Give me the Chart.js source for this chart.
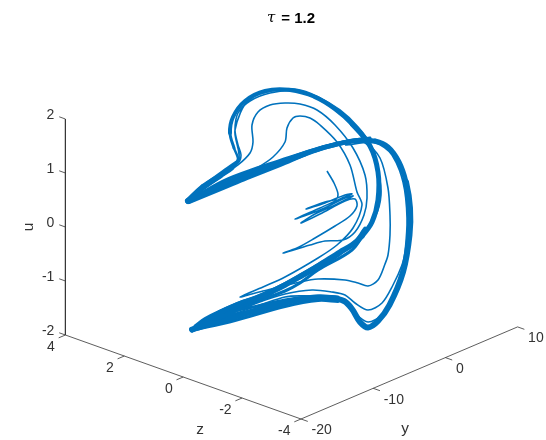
<!DOCTYPE html>
<html>
<head>
<meta charset="utf-8">
<title>tau = 1.2</title>
<script src="https://cdn.jsdelivr.net/npm/chart.js@4/dist/chart.umd.min.js"></script>
<style>
  html, body { margin: 0; padding: 0; background: #fff; }
  canvas { display: block; }
</style>
</head>
<body>
<canvas id="chart" width="546" height="440"></canvas>
<script>
// tick values of the three axes
const uTicks = [2, 1, 0, -1, -2];
const zTicks = [4, 2, 0, -2, -4];
const yTicks = [-20, -10, 0, 10];

// trajectory, in view plane units (the plot only shows the projection)
// transient: starts near the centre, spirals out
const transH = [5.4,6.1,6.5,6.3,5.2,3.3,5.2,7.2,7.9,6.7,4.7,2.2,4.7,7.2,8.0,6.2,4.2,2.8,4.7,7.2,8.2,8.4,7.7,6.2,4.2,2.4,1.0,2.4,3.7,5.2,7.0,8.2,9.1,9.4,9.2,8.0,6.2,4.4,2.7,1.2,-0.3,-1.5,-2.1,-2.0,-2.3,-3.5,-5.1,-6.8,-8.3,-5.8,-3.3,-1.6,0,1.2,1.4,2.0,2.7,3.7,4.7,6.4,7.7,8.4,
  8.9,8.0,6.4,4.5,1.2,-1.0,-3.3,-1.0,2.7,4.5,7.2,8.5,9.5,10.5,11.2,11.5,11.7,11.7,11.5,10.7,9.2,7.2,4.7,1.7,-3.3,-6.3,-8.3,-6.8,-3.5,-3.2,-3.5,-3.8,-3.5,-2.3,-0.3,2.2,4.5,6.5,8.2,9.9,10.6,10.8,10.3,8.9,6.7,3.4,-0.3,-3.3,-5.8,
  -1.6,1.2,3.9,5.9,7.2,8.2,9.5,10.9,12.0,12.9,13.2,13.4,13.0,11.7,10.2,8.4,5.0,1.7,
  -3.3,-8.5,-3.5,-3.8,-2.3,2.2,6.7,9.9,10.6,8.9,4.5,-1.6,-5.8,1.2,3.7,6.2,7.4,8.3,9.5,10.9,12.1,13.1,13.5,13.2,11.9,10.2,7.2];
const transV = [5.6,4.4,3.3,2.8,2.5,1.8,2.4,3.2,3.3,2.8,1.9,0.8,1.7,2.9,3.1,2.2,1.3,0.4,1.3,2.6,2.8,2.1,1.1,0.1,-1.1,-2.1,-2.6,-2.2,-1.8,-1.4,-1.3,-0.5,1.2,2.9,5.2,7.9,10.2,11.7,12.3,12.4,12.2,11.5,10.2,8.5,7.4,6.2,5.1,3.9,2.7,3.9,5.0,5.9,7.0,8.5,9.9,10.9,11.1,10.9,10.2,8.5,6.2,3.5,
  2.2,-0.1,-1.8,-3.1,-5.0,-6.0,-7.0,-6.4,-5.5,-5.2,-5.3,-5.6,-5.9,-5.3,-3.7,-2.8,-0.8,1.2,3.9,6.9,8.4,8.4,7.9,6.9,5.1,3.7,2.7,4.1,6.4,7.2,8.2,9.7,11.4,12.6,13.4,13.6,12.8,11.5,9.9,7.7,5.2,3.2,1.2,-0.8,-2.8,-4.8,-6.6,-8.1,-9.3,
  -7.6,-6.7,-6.3,-6.5,-6.8,-7.6,-8.3,-7.6,-5.8,-3.8,-2.5,0.9,4.5,7.9,8.6,8.8,8.1,7.0,
  5.0,2.6,6.6,9.7,12.8,13.8,11.7,8.0,3.2,-0.9,-3.9,-7.0,-9.3,-7.0,-6.9,-7.0,-7.5,-8.7,-9.5,-8.8,-7.0,-3.8,-0.8,3.7,7.2,8.4,8.2];

// settled cycle, outer branch from the upper tip round to the lower tip
const outerH = [-8.5,-6.8,-5.0,-3.3,-1.6,-0.5,0.7,1.5,2.4,3.2,4.0,4.9,5.7,7.4,8.7,10.2,11.5,12.6,13.3,13.7,13.65,13.0,11.65,10.5,9.5,8.7,7.9,7.1,5.7,3.7,1.2,-1.5,-3.8,-5.8,-8.1];
const outerV = [2.6,3.4,4.2,4.9,5.6,6.0,6.4,6.7,7.0,7.3,7.6,7.9,8.1,8.5,8.7,8.6,8.0,6.5,4.5,1.9,-0.8,-4.5,-7.8,-9.4,-10.05,-9.5,-8.2,-7.4,-7.1,-7.1,-7.55,-8.3,-8.95,-9.55,-10.25];
// settled cycle, return branch from the lower tip over the top
const backH = [-8.1,-6.8,-5.3,-3.8,-1.6,-0.2,1.2,2.8,4.5,6.7,7.9,8.9,9.9,10.5,10.5,9.7,7.9,6.2,4.2,1.7,-0.8,-2.8,-4.0,-4.3,-3.9,-3.5,-4.1,-5.3,-7.0,-8.5];
const backV = [-10.3,-9.5,-8.6,-7.9,-7.1,-6.5,-5.8,-4.9,-3.9,-2.5,-1.8,-0.9,0.5,2.7,5.5,8.1,10.3,11.8,13.0,13.7,13.6,12.6,11.0,9.4,7.9,6.7,5.9,5.1,4.0,2.6];

// edge passes of the dense wedges near the two tips
const edgeA1H = [-8.5,-5.0,-1.6,0.7,4.0,7.4,9.7];
const edgeA1V = [2.6,4.6,5.9,6.65,7.7,8.6,8.9];
const edgeA2H = [-8.4,-5.0,-2.6,0.7,4.0,7.4,9.7];
const edgeA2V = [2.45,3.85,4.85,6.15,7.5,8.45,8.8];
const edgeTopH = [-8.5,-7.3,-5.0,-3.5];
const edgeTopV = [2.6,3.85,5.55,6.6];
const edgeLow1H = [-8.1,-3.8,1.2,4.5,6.5];
const edgeLow1V = [-10.35,-9.35,-7.95,-7.35,-7.45];
const edgeLow2H = [-7.8,-3.8,-1.5,1.2,4.5,6.5];
const edgeLow2V = [-10.0,-8.4,-7.9,-7.3,-6.9,-7.0];
const edgeB1H = [-7.8,-6.8,-3.3,-1.8,1.2,4.5,7.9,9.2];
const edgeB1V = [-9.9,-9.15,-7.55,-7.05,-5.65,-3.75,-1.75,-0.1];
const edgeB2H = [-7.8,-3.8,-1.6,1.2,2.7,4.5,7.9,9.2];
const edgeB2V = [-10.1,-8.35,-7.45,-6.4,-5.6,-4.3,-2.3,-0.5];

// line width along the two branches
const outerWidths = [6,6,6,6,6,5.5,5.5,5,5,4.5,4.5,4.5,4.5,4.5,4.5,5,5,5,6,6,6,6,6,6,6,6,6,6,6,6,6,6,6,6,5.5];
const backWidths = [5,6,6,6,6,5.5,5.5,5.5,5.5,5.5,5.5,5,5,5,5,5,4.5,4.5,4,4,4,4,4,3,2.5,3,4.5,5.5,6,5.5];

const BLUE = "#0072BD";
const INK = "#333333";

// z, y, u -> view plane, fitted on the axis ends of the picture
function project(z, y, u){
  return {
    x: 2.8 - 2.945*(z+4) + 0.722*(y+20),
    y: -19.2 + 1.05*(z+4) + 0.307*(y+20) + 5.4*(u+2)
  };
}

function zip(hs, vs){ return hs.map((h,i) => ({ x:h, y:vs[i] })); }

function band(data, widths){
  return {
    data,
    showLine: true,
    borderColor: BLUE,
    borderWidth: 4,
    borderCapStyle: "round",
    borderJoinStyle: "round",
    tension: 0.35,
    pointRadius: 0,
    segment: { borderWidth: ctx => widths[ctx.p0DataIndex] }
  };
}

function edge(hs, vs){
  return { data: zip(hs, vs), showLine:true, borderColor:BLUE, borderWidth:3, borderCapStyle:"round", tension:0.35, pointRadius:0 };
}

function axisLine(data){
  return { data, showLine:true, borderColor:INK, borderWidth:0.8, pointRadius:0, tension:0 };
}

const datasets = [
  { data: zip(transH, transV), showLine:true, borderColor:BLUE, borderWidth:1.6, tension:0.3, pointRadius:0, borderJoinStyle:"round" },
  band(zip(outerH, outerV), outerWidths),
  band(zip(backH, backV), backWidths),
  edge(edgeA1H, edgeA1V),
  edge(edgeA2H, edgeA2V),
  edge(edgeTopH, edgeTopV),
  edge(edgeLow1H, edgeLow1V),
  edge(edgeLow2H, edgeLow2V),
  edge(edgeB1H, edgeB1V),
  edge(edgeB2H, edgeB2V),
  // box edges
  axisLine([project(4,-20,2), project(4,-20,-2)]),
  axisLine([project(4,-20,-2), project(-4,-20,-2)]),
  axisLine([project(-4,-20,-2), project(-4,10,-2)])
];
// tick marks lean along the neighbouring axis
uTicks.forEach(u => datasets.push(axisLine([project(4,-20,u), project(4.21,-20,u)])));
zTicks.forEach(z => datasets.push(axisLine([project(z,-20,-2), project(z,-20.93,-2)])));
yTicks.forEach(y => datasets.push(axisLine([project(-4,y,-2), project(-4.23,y,-2)])));

const textLayer = {
  id: "textLayer",
  afterDraw(chart){
    const { ctx, scales } = chart;
    const at = p => ({ x: scales.x.getPixelForValue(p.x), y: scales.y.getPixelForValue(p.y) });
    const put = (s, x, y, align) => { ctx.textAlign = align; ctx.fillText(s, x, y); };
    ctx.save();
    ctx.fillStyle = INK;
    ctx.textBaseline = "middle";

    ctx.font = "14px 'Liberation Sans'";
    uTicks.forEach(u => { const p = at(project(4,-20,u)); put(String(u), p.x-11, p.y-3.5, "right"); });
    zTicks.forEach(z => { const p = at(project(z,-20,-2)); put(String(z), p.x-10.5, p.y+12, "right"); });
    yTicks.forEach(y => { const p = at(project(-4,y,-2)); put(String(y), p.x+10.5, p.y+11.5, "left"); });

    ctx.font = "15.4px 'Liberation Sans'";
    put("z", 200, 430, "center");
    put("y", 405, 429, "center");
    ctx.save();
    ctx.translate(29, 227);
    ctx.rotate(-Math.PI/2);
    put("u", 0, 0, "center");
    ctx.restore();

    // title: italic tau next to the bold part
    ctx.fillStyle = "#000";
    ctx.font = "italic 15px 'DejaVu Serif'";
    put("τ", 267, 18, "left");
    ctx.font = "bold 15px 'Liberation Sans'";
    put("= 1.2", 315, 19, "right");
    ctx.restore();
  }
};

new Chart(document.getElementById("chart").getContext("2d"), {
  type: "scatter",
  data: { datasets },
  options: {
    responsive: false,
    animation: false,
    layout: { padding: 0 },
    plugins: { legend:{ display:false }, tooltip:{ enabled:false }, title:{ display:false } },
    scales: {
      x: { type:"linear", display:false, min:-27.3, max:27.3 },
      y: { type:"linear", display:false, min:-21.3, max:22.7 }
    }
  },
  plugins: [textLayer]
});
</script>
</body>
</html>
